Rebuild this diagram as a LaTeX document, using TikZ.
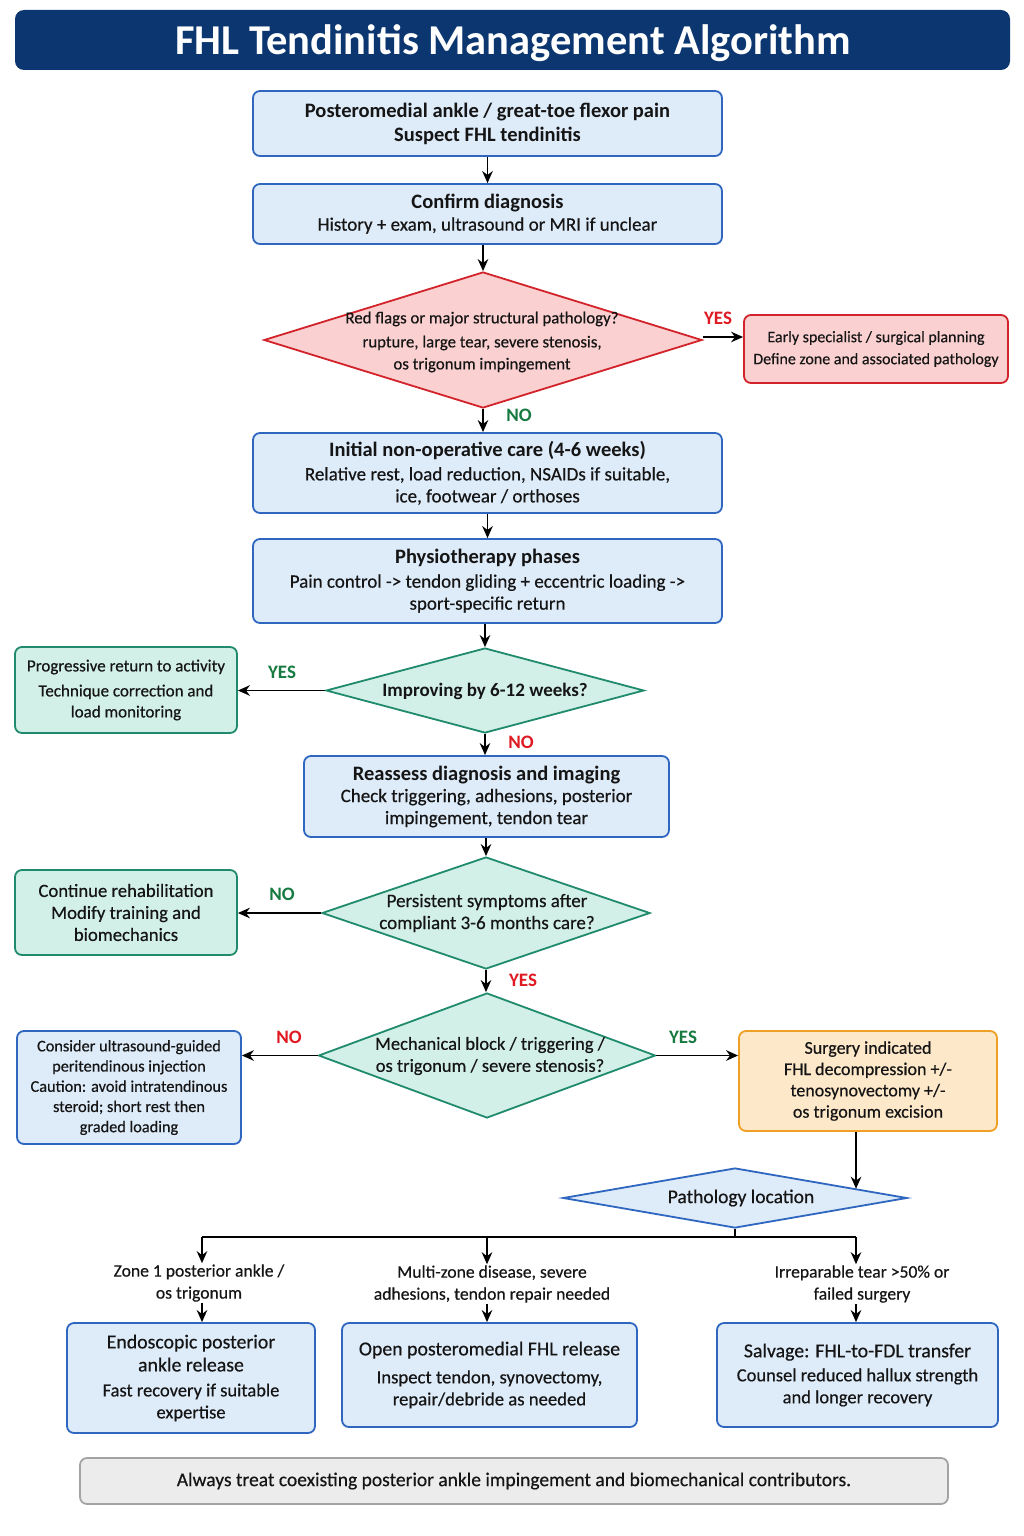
\documentclass[tikz,border=0pt]{standalone}
\usepackage{fontspec}
\setmainfont{Carlito}[UprightFeatures={FakeBold=0.45}]
\usetikzlibrary{arrows.meta,shapes.geometric,calc}
\definecolor{navy}{HTML}{0B3670}
\definecolor{bfill}{HTML}{DEEBF9}
\definecolor{bline}{HTML}{2E66C0}
\definecolor{rfill}{HTML}{FAD0D0}
\definecolor{rline}{HTML}{D2232A}
\definecolor{gfill}{HTML}{D2F0E8}
\definecolor{gline}{HTML}{1F8A6C}
\definecolor{ofill}{HTML}{FDE8C9}
\definecolor{oline}{HTML}{EEA024}
\definecolor{kfill}{HTML}{ECECEC}
\definecolor{kline}{HTML}{A3A3A3}
\definecolor{yesred}{HTML}{E01A22}
\definecolor{nogreen}{HTML}{177A40}
\definecolor{txt}{HTML}{151515}
\newcommand\hdA{\bfseries\fontsize{20.5}{22}\selectfont}
\newcommand\sbA{\fontsize{19}{22}\selectfont}
\newcommand\bgA{\fontsize{19.8}{23}\selectfont}
\begin{document}
\begin{tikzpicture}[x=1pt,y=-1pt,
 every node/.style={text=txt},
 boxbase/.style={rounded corners=7pt, line width=1.8pt, align=center, inner sep=3pt, font=\sbA},
 bluebox/.style={boxbase, draw=bline, fill=bfill},
 redbox/.style={boxbase, draw=rline, fill=rfill},
 greenbox/.style={boxbase, draw=gline, fill=gfill},
 orangebox/.style={boxbase, draw=oline, fill=ofill},
 greybox/.style={boxbase, draw=kline, fill=kfill},
 dia/.style={diamond, line width=1.8pt, inner sep=0pt},
 dtext/.style={align=center, font=\fontsize{16.8}{22}\selectfont, inner sep=0pt},
 arr/.style={-{Stealth[length=12pt,width=10.5pt]}, line width=1.8pt},
 ln/.style={line width=1.8pt},
 lab/.style={font=\bfseries\fontsize{19}{20}\selectfont, inner sep=0pt},
 brl/.style={align=center, font=\fontsize{17.6}{22}\selectfont, inner sep=1pt},
]
\fill[white] (0,0) rectangle (1024,1536);
\useasboundingbox (0,0) rectangle (1024,1536);

% title
\node[fill=navy, rounded corners=9pt, minimum width=995pt, minimum height=60pt, inner sep=0pt] (title) at (512.5,40) {};
\node[text=white, font=\bfseries\fontsize{42.5}{44}\selectfont, inner sep=0pt] (titlet) at (513,43) {FHL Tendinitis Management Algorithm};

% main column
\node[bluebox, minimum width=469pt, minimum height=65pt] (b1) at (487.5,123.5)
  {{\hdA Posteromedial ankle / great-toe flexor pain}\\[2pt]{\hdA Suspect FHL tendinitis}};
\node[bluebox, minimum width=469pt, minimum height=60pt] (b2) at (487.5,214)
  {{\hdA Confirm diagnosis}\\History + exam, ultrasound or MRI if unclear};

\node[dia, draw=rline, fill=rfill, minimum width=438pt, minimum height=136pt] (d1) at (483,340) {};
\node[dtext] (d1t) at (482,342) {Red flags or major structural pathology?\\[2pt]rupture, large tear, severe stenosis,\\os trigonum impingement};

\node[redbox, font=\fontsize{16}{22}\selectfont, minimum width=264pt, minimum height=68pt] (rb) at (876,349)
  {Early specialist / surgical planning\\Define zone and associated pathology};

\node[bluebox, minimum width=469pt, minimum height=80pt] (b3) at (487.5,473)
  {{\hdA Initial non-operative care (4-6 weeks)}\\[2pt]Relative rest, load reduction, NSAIDs if suitable,\\ice, footwear / orthoses};
\node[bluebox, minimum width=469pt, minimum height=84pt] (b4) at (487.5,581)
  {{\hdA Physiotherapy phases}\\[2pt]Pain control -> tendon gliding + eccentric loading ->\\sport-specific return};

\node[dia, draw=gline, fill=gfill, minimum width=318pt, minimum height=85pt] (d2) at (485,690.5) {};
\node[dtext, font=\bfseries\fontsize{19}{22}\selectfont] (d2t) at (485,691) {Improving by 6-12 weeks?};

\node[greenbox, font=\fontsize{17}{21}\selectfont, minimum width=222pt, minimum height=86pt] (g1) at (126,690)
  {Progressive return to activity\\[4pt]Technique correction and\\load monitoring};

\node[bluebox, minimum width=365pt, minimum height=81pt] (b5) at (486.5,796.5)
  {{\hdA Reassess diagnosis and imaging}\\Check triggering, adhesions, posterior\\impingement, tendon tear};

\node[dia, draw=gline, fill=gfill, minimum width=328pt, minimum height=112pt] (d3) at (486,913) {};
\node[dtext, font=\fontsize{19}{22}\selectfont] (d3t) at (487,913) {Persistent symptoms after\\compliant 3-6 months care?};

\node[greenbox, font=\fontsize{18.7}{22}\selectfont, minimum width=222pt, minimum height=85pt] (g2) at (126,912.5)
  {Continue rehabilitation\\Modify training and\\biomechanics};

\node[dia, draw=gline, fill=gfill, minimum width=337pt, minimum height=125pt] (d4) at (487,1055.5) {};
\node[dtext, font=\fontsize{18.5}{22}\selectfont] (d4t) at (490,1056) {Mechanical block / triggering /\\os trigonum / severe stenosis?};

\node[bluebox, font=\fontsize{16.3}{20.2}\selectfont, minimum width=224pt, minimum height=113pt] (lb) at (129,1087.5)
  {Consider ultrasound-guided\\peritendinous injection\\Caution: avoid intratendinous\\steroid; short rest then\\graded loading};

\node[orangebox, font=\fontsize{18}{21.3}\selectfont, minimum width=258pt, minimum height=100pt] (ob) at (868,1081)
  {Surgery indicated\\FHL decompression +/-\\tenosynovectomy +/-\\os trigonum excision};

\node[dia, draw=bline, fill=bfill, minimum width=344pt, minimum height=60pt] (d5) at (735,1198) {};
\node[dtext, font=\fontsize{19.5}{22}\selectfont] (d5t) at (741,1198) {Pathology location};

% branch labels
\node[brl] (l1) at (199,1283) {Zone 1 posterior ankle /\\os trigonum};
\node[brl] (l2) at (492,1284) {Multi-zone disease, severe\\adhesions, tendon repair needed};
\node[brl] (l3) at (862,1284) {Irreparable tear >50\% or\\failed surgery};

% end boxes
\node[bluebox, font=\fontsize{18.5}{22}\selectfont, minimum width=248pt, minimum height=110pt] (e1) at (191,1378)
  {{\bgA Endoscopic posterior}\\[1pt]{\bgA ankle release}\\[3pt]Fast recovery if suitable\\expertise};
\node[bluebox, font=\fontsize{18.7}{22}\selectfont, minimum width=295pt, minimum height=104pt] (e2) at (489.5,1375)
  {{\bgA Open posteromedial FHL release}\\[6pt]Inspect tendon, synovectomy,\\repair/debride as needed};
\node[bluebox, font=\fontsize{18.5}{22}\selectfont, minimum width=281pt, minimum height=104pt] (e3) at (857.5,1375)
  {{\bgA Salvage: FHL-to-FDL transfer}\\[2pt]Counsel reduced hallux strength\\and longer recovery};

% footer
\node[greybox, font=\fontsize{19.5}{22}\selectfont, minimum width=868pt, minimum height=46pt] (ft) at (514,1481)
  {Always treat coexisting posterior ankle impingement and biomechanical contributors.};

% connectors
\draw[arr] (b1.south) -- (b2.north);
\draw[arr] (b2.south -| d1.north) -- (d1.north);
\draw[arr] (d1.south) -- (d1.south |- b3.north);
\draw[arr] (b3.south) -- (b4.north);
\draw[arr] (b4.south -| d2.north) -- (d2.north);
\draw[arr] (d2.south) -- (d2.south |- b5.north);
\draw[arr] (b5.south -| d3.north) -- (d3.north);
\draw[arr] (d3.south) -- (d3.south |- d4.north);
\draw[arr] ([yshift=3pt]d1.east) -- ([yshift=3pt]d1.east -| rb.west);
\draw[arr] (d2.west) -- (d2.west -| g1.east);
\draw[arr] (d3.west) -- (d3.west -| g2.east);
\draw[arr] (d4.west) -- (d4.west -| lb.east);
\draw[arr] (d4.east) -- (d4.east -| ob.west);
\coordinate (p5) at ($(d5.north)!0.7!(d5.east)$);
\draw[arr] (ob.south -| p5) -- (p5);

\coordinate (k1) at (202,1237);
\coordinate (k2) at (487,1237);
\coordinate (k3) at (856,1237);
\draw[ln] (d5.south) -- (d5.south |- k1);
\draw[ln] (k1) -- (k3);
\draw[arr] (k1) -- (k1 |- l1.north);
\draw[arr] (k2) -- (k2 |- l2.north);
\draw[arr] (k3) -- (k3 |- l3.north);
\draw[arr] (k1 |- l1.south) -- (k1 |- e1.north);
\draw[arr] (k2 |- l2.south) -- (k2 |- e2.north);
\draw[arr] (k3 |- l3.south) -- (k3 |- e3.north);

% yes/no labels
\node[lab, text=yesred] (y1) at (718,318) {YES};
\node[lab, text=nogreen] (n1) at (519,415) {NO};
\node[lab, text=nogreen] (y2) at (282,672) {YES};
\node[lab, text=yesred] (n2) at (521,742) {NO};
\node[lab, text=nogreen] (n3) at (282,894) {NO};
\node[lab, text=yesred] (y3) at (523,980) {YES};
\node[lab, text=yesred] (n4) at (289,1037) {NO};
\node[lab, text=nogreen] (y4) at (683,1037) {YES};
\end{tikzpicture}
\end{document}
